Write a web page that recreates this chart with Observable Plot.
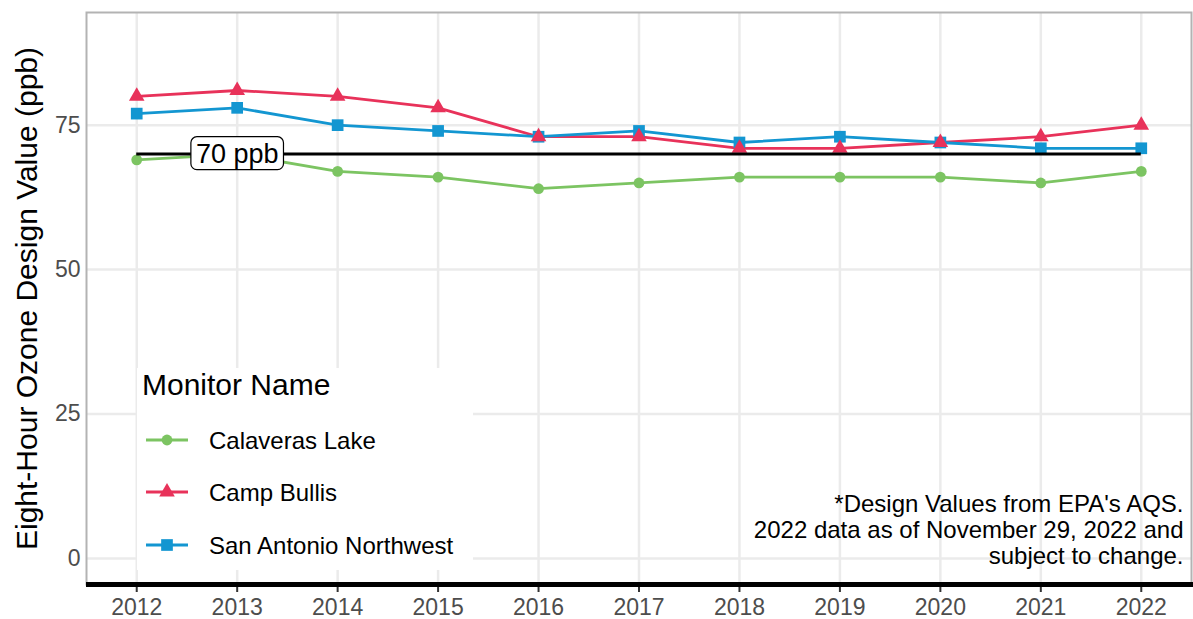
<!DOCTYPE html>
<html>
<head>
<meta charset="utf-8">
<script src="https://cdn.jsdelivr.net/npm/d3@7"></script>
<script src="https://cdn.jsdelivr.net/npm/@observablehq/plot@0.6"></script>
<style>
  html, body { margin: 0; padding: 0; background: #fff; }
  #wrap { position: relative; width: 1193px; height: 619px; font-family: "Liberation Sans", Arial, sans-serif; }
  #legend { position: absolute; left: 137px; top: 368px; }
</style>
</head>
<body>
<div id="wrap"></div>
<script>
// ---- data ----
const years = [2012, 2013, 2014, 2015, 2016, 2017, 2018, 2019, 2020, 2021, 2022];
const calaverasLake = [69, 70, 67, 66, 64, 65, 66, 66, 66, 65, 67];
const campBullis = [80, 81, 80, 78, 73, 73, 71, 71, 72, 73, 75];
const sanAntonioNorthwest = [77, 78, 75, 74, 73, 74, 72, 73, 72, 71, 71];
const seriesNames = ["Calaveras Lake", "Camp Bullis", "San Antonio Northwest"];
const yTicks = [0, 25, 50, 75];
const standardValue = 70;
const standardLabel = "70 ppb";
const standardLabelYear = 2013;
const yTitle = "Eight-Hour Ozone Design Value (ppb)";
const legendTitle = "Monitor Name";
const note = "*Design Values from EPA's AQS.\n2022 data as of November 29, 2022 and\nsubject to change.";

// ---- styling ----
const seriesValues = [calaverasLake, campBullis, sanAntonioNorthwest];
const style = {
  colors: ["#7CC462", "#E8325A", "#1396D1"],
  symbols: ["circle", "triangle", "square"],
  radius: [5.4, 5.8, 6.6]
};
const rows = seriesNames.flatMap((name, i) =>
  years.map((year, j) => ({ series: name, year, value: seriesValues[i][j] })));

const font = "'Liberation Sans', Arial, sans-serif";

const marks = [
  Plot.gridY(yTicks, { stroke: "#ebebeb", strokeOpacity: 1, strokeWidth: 2.5 }),
  Plot.gridX(years, { stroke: "#ebebeb", strokeOpacity: 1, strokeWidth: 2.5 }),
];
seriesNames.forEach((name, i) => {
  marks.push(Plot.line(rows.filter(d => d.series === name), {
    x: "year", y: "value", stroke: style.colors[i], strokeWidth: 2.8
  }));
});
[0, 2, 1].forEach(i => {
  const name = seriesNames[i];
  marks.push(Plot.dot(rows.filter(d => d.series === name), {
    x: "year", y: "value", fill: style.colors[i], stroke: "none",
    symbol: style.symbols[i], r: style.radius[i]
  }));
});
marks.push(
  Plot.ruleY([standardValue], { x1: years[0], x2: years[years.length - 1], stroke: "#000", strokeWidth: 3 }),
  Plot.text([standardLabel], { x: standardLabelYear, y: standardValue, text: d => d, fontSize: 27, fill: "#000" }),
  Plot.frame({ stroke: "#b3b3b3", strokeWidth: 2 }),
  Plot.axisX(years, { tickSize: 8, tickPadding: 6, fontSize: 23, fill: "#4d4d4d", stroke: "#333", strokeWidth: 2, tickFormat: d => String(d), label: null }),
  Plot.axisY(yTicks, { tickSize: 0, tickPadding: 6, fontSize: 23, fill: "#4d4d4d", label: null }),
  Plot.ruleY([-4.5], { stroke: "#000", strokeWidth: 5, insetRight: -2 }),
  Plot.text([note], { text: d => d, frameAnchor: "bottom-right", textAnchor: "end", lineAnchor: "middle", lineHeight: 1.1, dx: -8, dy: -55, fontSize: 24, fill: "#000" }),
  Plot.text([yTitle], { text: d => d, frameAnchor: "left", textAnchor: "middle", lineAnchor: "middle", rotate: -90, dx: -59, fontSize: 30, fill: "#000" })
);

const chart = Plot.plot({
  width: 1193,
  height: 619,
  marginLeft: 86,
  marginRight: 2,
  marginTop: 12,
  marginBottom: 35,
  style: { fontFamily: font, background: "#fff", overflow: "visible" },
  x: { domain: [2011.5, 2022.5], axis: null },
  y: { domain: [-4.5, 94.5], axis: null },
  marks
});

const wrap = document.getElementById("wrap");
wrap.appendChild(chart);

// box around the "70 ppb" label (like ggplot geom_label)
d3.select(chart).selectAll("text").each(function () {
  if (this.textContent === standardLabel) {
    const bb = this.getBBox();
    const rect = document.createElementNS("http://www.w3.org/2000/svg", "rect");
    rect.setAttribute("x", bb.x - 5);
    rect.setAttribute("y", bb.y - 2);
    rect.setAttribute("width", bb.width + 10);
    rect.setAttribute("height", bb.height + 3);
    rect.setAttribute("rx", 6);
    rect.setAttribute("fill", "#fff");
    rect.setAttribute("stroke", "#000");
    rect.setAttribute("stroke-width", 1.2);
    const t = this.getAttribute("transform");
    if (t) rect.setAttribute("transform", t);
    this.parentNode.insertBefore(rect, this);
  }
});

// legend
const lg = d3.select(wrap).append("svg")
  .attr("id", "legend")
  .attr("width", 336).attr("height", 202)
  .style("font-family", font);
lg.append("rect").attr("width", 336).attr("height", 202).attr("fill", "#fff");
lg.append("text").attr("x", 5).attr("y", 27).attr("font-size", 30).attr("fill", "#000").text(legendTitle);
const symMap = { circle: d3.symbolCircle, triangle: d3.symbolTriangle, square: d3.symbolSquare };
const itemY = [72, 124, 177];
seriesNames.forEach((name, i) => {
  const g = lg.append("g").attr("transform", `translate(0,${itemY[i]})`);
  g.append("line").attr("x1", 9).attr("x2", 51).attr("y1", 0).attr("y2", 0)
    .attr("stroke", style.colors[i]).attr("stroke-width", 2.8);
  g.append("path").attr("transform", "translate(30,0)")
    .attr("d", d3.symbol(symMap[style.symbols[i]], Math.PI * style.radius[i] ** 2)())
    .attr("fill", style.colors[i]);
  g.append("text").attr("x", 72).attr("y", 8.5).attr("font-size", 24).attr("fill", "#000").text(name);
});
</script>
</body>
</html>
